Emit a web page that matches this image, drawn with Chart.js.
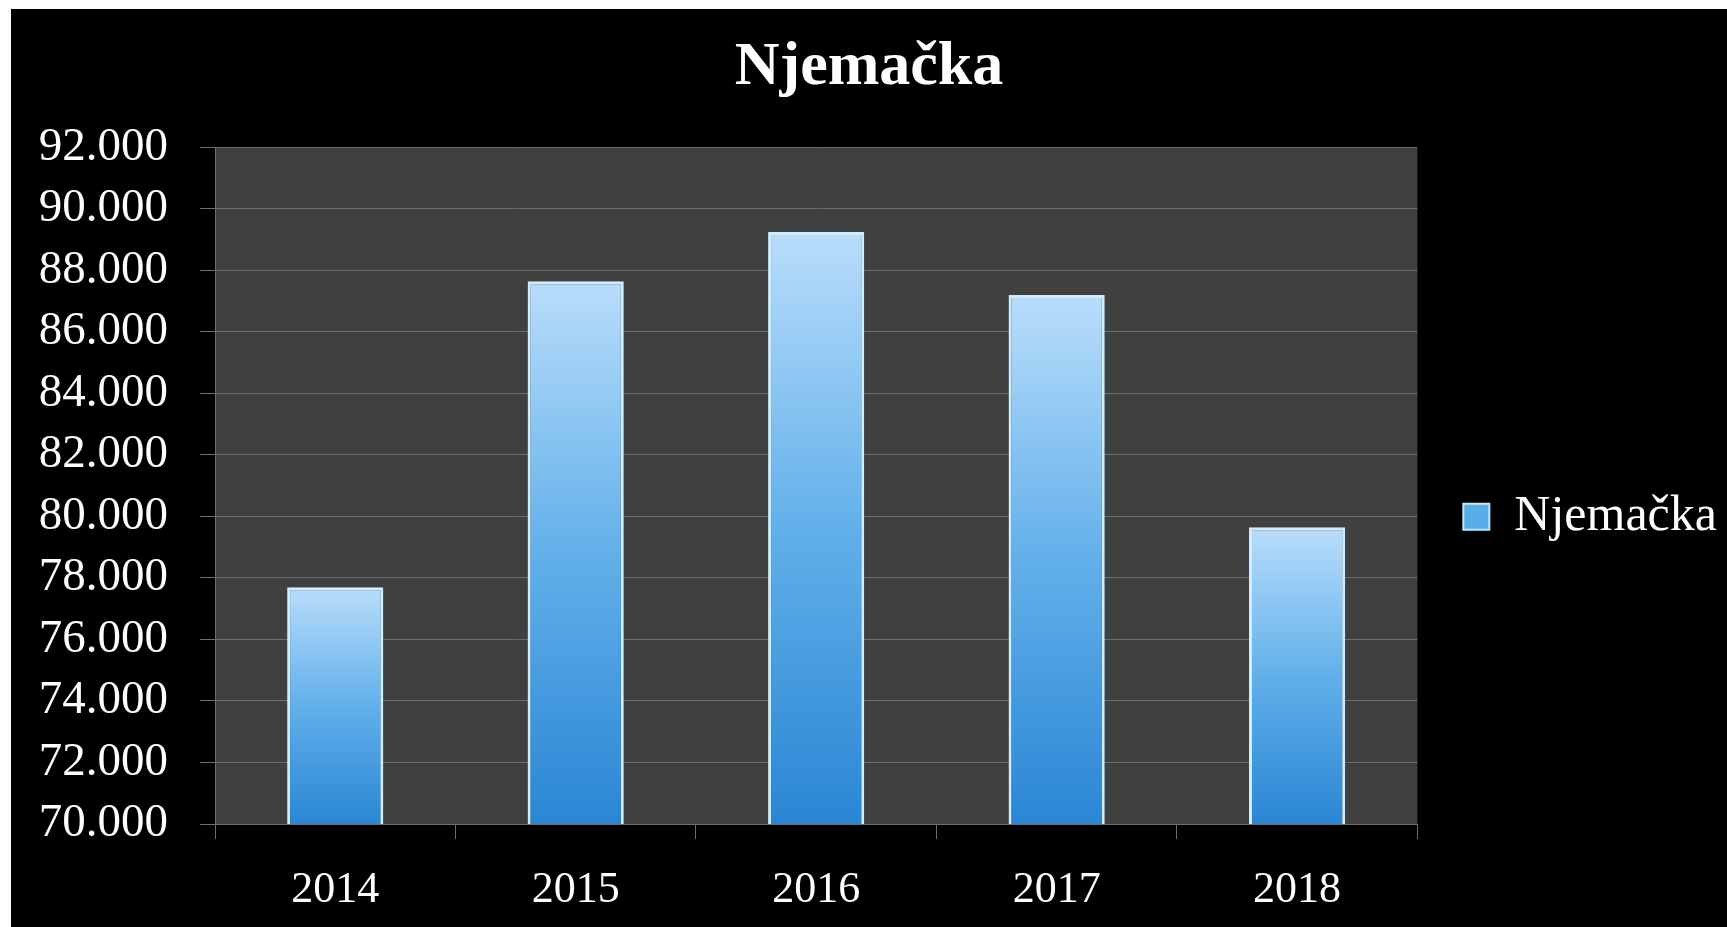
<!DOCTYPE html>
<html>
<head>
<meta charset="utf-8">
<script src="https://cdn.jsdelivr.net/npm/chart.js@4/dist/chart.umd.min.js"></script>
<style>
  html, body { margin: 0; padding: 0; background: #fff; }
  #wrap { position: absolute; left: 11px; top: 9px; width: 1716px; height: 918px; background: #000; }
</style>
</head>
<body>
<div id="wrap"><canvas id="chart"></canvas></div>
<script>
// Njemačka - yearly values
const years = ['2014', '2015', '2016', '2017', '2018'];
const values = [77700, 87650, 89250, 87200, 79650];
const seriesName = 'Njemačka';
const yTicks = [70000, 72000, 74000, 76000, 78000, 80000, 82000, 84000, 86000, 88000, 90000, 92000];
const yTickLabels = ['70.000', '72.000', '74.000', '76.000', '78.000', '80.000', '82.000', '84.000', '86.000', '88.000', '90.000', '92.000'];

const FONT = '"Liberation Serif", "DejaVu Serif", serif';
const GRID = '#6e6e6e';

// each bar gets its own light-top / dark-bottom gradient
function barFill(ctx) {
  const chart = ctx.chart;
  if (ctx.type !== 'data' || !chart.chartArea) return '#5aaeea';
  const top = chart.scales.y.getPixelForValue(ctx.parsed.y);
  const bottom = chart.chartArea.bottom;
  const g = chart.ctx.createLinearGradient(0, top, 0, bottom);
  g.addColorStop(0, '#b9ddfb');
  g.addColorStop(0.5, '#62b0ea');
  g.addColorStop(1, '#2a86d4');
  return g;
}

// dark grey plot area + nudge the legend down like the original
const plotBg = {
  id: 'plotBg',
  beforeDraw(chart) {
    const a = chart.chartArea, c = chart.ctx;
    c.save();
    c.fillStyle = '#404040';
    c.fillRect(a.left, a.top, a.right - a.left, a.bottom - a.top);
    c.restore();
  },
  afterLayout(chart) {
    chart.legend.top += 31;
    chart.legend.bottom += 31;
  }
};

new Chart(document.getElementById('chart'), {
  type: 'bar',
  data: {
    labels: years,
    datasets: [{
      label: seriesName,
      data: values,
      backgroundColor: barFill,
      borderColor: '#cdeeff',
      borderWidth: 3,
      barPercentage: 0.4,
      categoryPercentage: 1
    }]
  },
  options: {
    responsive: true,
    maintainAspectRatio: false,
    animation: false,
    layout: { padding: { left: 0, right: 0, top: 0, bottom: 0 } },
    plugins: {
      title: {
        display: true,
        text: seriesName,
        color: '#fff',
        font: { family: FONT, size: 62, weight: 'bold' },
        padding: { top: 22, bottom: 42 }
      },
      legend: {
        position: 'right',
        fullSize: false,
        labels: {
          color: '#fff',
          font: { family: FONT, size: 50 },
          boxWidth: 26,
          boxHeight: 26,
          padding: 46,
          generateLabels(chart) {
            return Chart.defaults.plugins.legend.labels.generateLabels(chart).map(l => ({
              ...l, fillStyle: '#58ade9', strokeStyle: '#bfe6ff', lineWidth: 2
            }));
          }
        }
      },
      tooltip: { enabled: false }
    },
    scales: {
      x: {
        grid: { drawOnChartArea: false, drawTicks: true, tickLength: 15, color: GRID, offset: true },
        border: { display: true, color: GRID },
        ticks: { color: '#fff', font: { family: FONT, size: 44 }, padding: 25 },
        afterFit(s) { s.height = 103; }
      },
      y: {
        min: 70000,
        max: 92000,
        grid: { color: GRID, tickLength: 15 },
        border: { display: true, color: GRID },
        afterBuildTicks(s) { s.ticks = yTicks.map(v => ({ value: v })); },
        ticks: {
          color: '#fff',
          font: { family: FONT, size: 47 },
          padding: 32,
          callback: (v) => yTickLabels[yTicks.indexOf(v)]
        },
        afterFit(s) { s.width = 204; }
      }
    }
  },
  plugins: [plotBg]
});
</script>
</body>
</html>
